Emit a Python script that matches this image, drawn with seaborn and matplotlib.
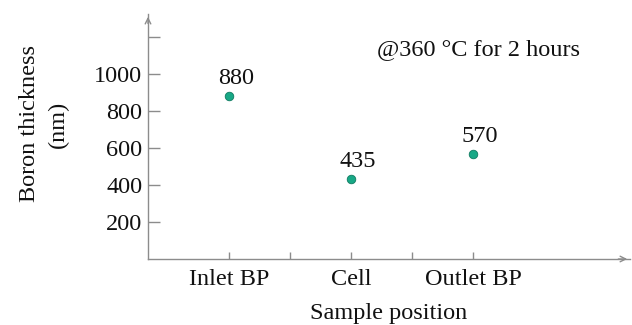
import matplotlib
matplotlib.use("Agg")
import matplotlib.pyplot as plt
import seaborn as sns
import pandas as pd

positions = ["Inlet BP", "Cell", "Outlet BP"]
position_index = [1, 2, 3]
thickness_nm = [880, 435, 570]
y_ticks = [200, 400, 600, 800, 1000, 1200]
y_tick_labels = ["200", "400", "600", "800", "1000", ""]
x_ticks = [1, 1.5, 2, 2.5, 3]
x_tick_labels = ["Inlet BP", "", "Cell", "", "Outlet BP"]

df = pd.DataFrame({"pos": position_index, "thickness": thickness_nm, "label": positions})

sns.set_theme(style="white")
plt.rcParams["font.family"] = ["Liberation Serif", "DejaVu Serif"]
plt.rcParams["text.color"] = "#111111"
plt.rcParams["xtick.labelcolor"] = "#111111"
plt.rcParams["ytick.labelcolor"] = "#111111"
plt.rcParams["axes.labelcolor"] = "#111111"
grey = "#8c8c8c"
fs = 17.5

fig = plt.figure(figsize=(6.32, 3.25), dpi=100)
W, H = 632, 325
left, right, bottom, top = 148, 630, 259, 14
ax = fig.add_axes([left / W, (H - bottom) / H, (right - left) / W, (bottom - top) / H])

sns.scatterplot(data=df, x="pos", y="thickness", ax=ax, s=38,
                color="#18a886", edgecolor="#0f7a60", linewidth=0.6, zorder=3, legend=False)

for x, y in zip(position_index, thickness_nm):
    ax.annotate(f"{y}", (x, y), xytext=(5, 5), textcoords="offset points",
                ha="center", va="bottom", fontsize=fs)

ax.set_xlim(1 - 81 / 122, 1 + (630 - 229) / 122)
ax.set_ylim(0, (bottom - top) / 0.185)

ax.set_yticks(y_ticks)
ax.set_yticklabels(y_tick_labels)
ax.set_xticks(x_ticks)
ax.set_xticklabels(x_tick_labels)
ax.tick_params(axis="y", direction="in", length=8.5, width=1, color=grey,
               labelsize=fs, pad=4, left=True)
ax.tick_params(axis="x", direction="in", length=5, width=1, color=grey,
               labelsize=fs, pad=7, bottom=True)

for side in ["top", "right"]:
    ax.spines[side].set_visible(False)
for side in ["left", "bottom"]:
    ax.spines[side].set_color(grey)
    ax.spines[side].set_linewidth(1)

# arrowheads at the ends of both axes
ax.annotate("", xy=(1.0, 0), xytext=(0.97, 0), xycoords="axes fraction",
            arrowprops=dict(arrowstyle="->", color=grey, lw=1, mutation_scale=10),
            annotation_clip=False)
ax.annotate("", xy=(0, 1.0), xytext=(0, 0.95), xycoords="axes fraction",
            arrowprops=dict(arrowstyle="->", color=grey, lw=1, mutation_scale=10),
            annotation_clip=False)

ax.set_xlabel("Sample position", fontsize=fs, labelpad=9.5)
ax.set_ylabel("Boron thickness\n(nm)", fontsize=fs, labelpad=18, linespacing=1.5)
ax.yaxis.label.set_y((bottom - 124) / (bottom - top))

fig.text(377 / W, 1 - 50 / H, "@360 °C for 2 hours", fontsize=fs,
         ha="left", va="center")

fig.savefig("out.png", dpi=100)
